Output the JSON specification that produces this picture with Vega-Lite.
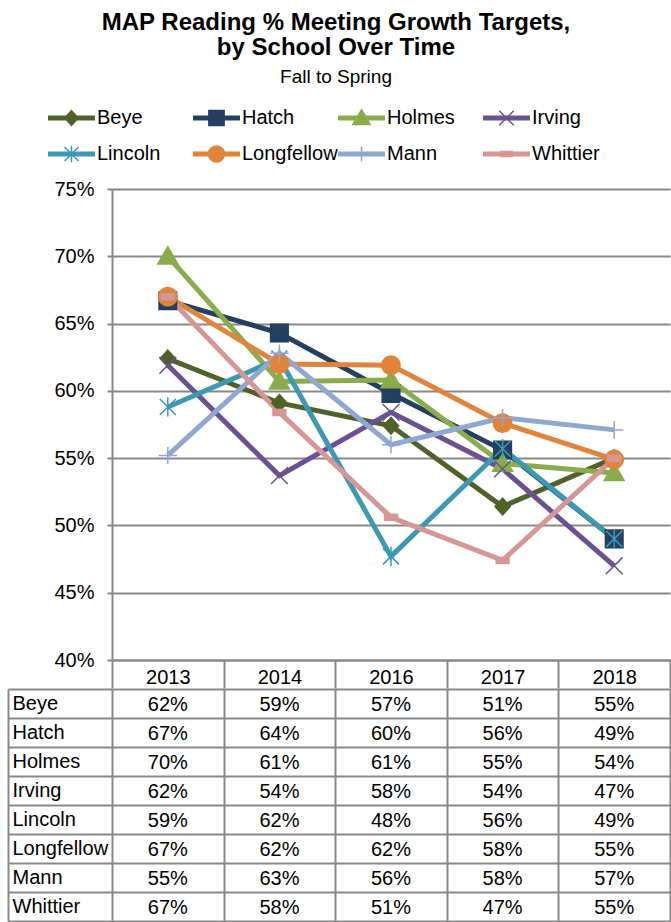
{
  "$schema": "https://vega.github.io/schema/vega-lite/v6.json",
  "padding": {"left": 7, "top": 10, "right": 0, "bottom": 0},
  "autosize": {"type": "pad"},
  "title": {
    "text": ["MAP Reading % Meeting Growth Targets,", "by School Over Time"],
    "subtitle": "Fall to Spring",
    "fontSize": 24,
    "fontWeight": "bold",
    "lineHeight": 25.5,
    "color": "#000000",
    "subtitleFontSize": 19,
    "subtitleColor": "#000000",
    "subtitlePadding": 7.5,
    "anchor": "middle",
    "dx": -3,
    "offset": 20
  },
  "spacing": -10,
  "config": {
    "font": "Liberation Sans",
    "view": {"stroke": null},
    "axis": {"labelFont": "Liberation Sans"}
  },
  "datasets": {
    "scores": [
      {"school": "Beye", "year": "2013", "value": 0.624},
      {"school": "Beye", "year": "2014", "value": 0.591},
      {"school": "Beye", "year": "2016", "value": 0.574},
      {"school": "Beye", "year": "2017", "value": 0.514},
      {"school": "Beye", "year": "2018", "value": 0.550},
      {"school": "Hatch", "year": "2013", "value": 0.667},
      {"school": "Hatch", "year": "2014", "value": 0.643},
      {"school": "Hatch", "year": "2016", "value": 0.598},
      {"school": "Hatch", "year": "2017", "value": 0.556},
      {"school": "Hatch", "year": "2018", "value": 0.490},
      {"school": "Holmes", "year": "2013", "value": 0.700},
      {"school": "Holmes", "year": "2014", "value": 0.607},
      {"school": "Holmes", "year": "2016", "value": 0.608},
      {"school": "Holmes", "year": "2017", "value": 0.546},
      {"school": "Holmes", "year": "2018", "value": 0.539},
      {"school": "Irving", "year": "2013", "value": 0.619},
      {"school": "Irving", "year": "2014", "value": 0.537},
      {"school": "Irving", "year": "2016", "value": 0.584},
      {"school": "Irving", "year": "2017", "value": 0.542},
      {"school": "Irving", "year": "2018", "value": 0.470},
      {"school": "Lincoln", "year": "2013", "value": 0.588},
      {"school": "Lincoln", "year": "2014", "value": 0.624},
      {"school": "Lincoln", "year": "2016", "value": 0.477},
      {"school": "Lincoln", "year": "2017", "value": 0.557},
      {"school": "Lincoln", "year": "2018", "value": 0.490},
      {"school": "Longfellow", "year": "2013", "value": 0.670},
      {"school": "Longfellow", "year": "2014", "value": 0.620},
      {"school": "Longfellow", "year": "2016", "value": 0.619},
      {"school": "Longfellow", "year": "2017", "value": 0.576},
      {"school": "Longfellow", "year": "2018", "value": 0.549},
      {"school": "Mann", "year": "2013", "value": 0.552},
      {"school": "Mann", "year": "2014", "value": 0.628},
      {"school": "Mann", "year": "2016", "value": 0.560},
      {"school": "Mann", "year": "2017", "value": 0.580},
      {"school": "Mann", "year": "2018", "value": 0.571},
      {"school": "Whittier", "year": "2013", "value": 0.670},
      {"school": "Whittier", "year": "2014", "value": 0.584},
      {"school": "Whittier", "year": "2016", "value": 0.506},
      {"school": "Whittier", "year": "2017", "value": 0.474},
      {"school": "Whittier", "year": "2018", "value": 0.550}
    ]
  },
  "vconcat": [
    {
      "width": 558,
      "height": 471,
      "data": {"name": "scores"},
      "resolve": {"scale": {"x": "independent", "y": "independent"}},
      "layer": [
        {
          "encoding": {
            "x": {
              "field": "year",
              "type": "ordinal",
              "bandPosition": 0.5,
              "scale": {"type": "band", "paddingInner": 0, "paddingOuter": 0},
              "axis": {
                "orient": "bottom",
                "title": null,
                "tickBand": "extent",
                "tickSize": 28,
                "tickWidth": 2,
                "tickColor": "#888888",
                "domainColor": "#888888",
                "domainWidth": 2,
                "labelFontSize": 20,
                "labelColor": "#000000",
                "labelPadding": -21,
                "labelAngle": 0,
                "grid": false
              }
            },
            "y": {
              "field": "value",
              "type": "quantitative",
              "scale": {"domain": [0.4, 0.75], "nice": false, "zero": false},
              "axis": {
                "title": null,
                "values": [0.4, 0.45, 0.5, 0.55, 0.6, 0.65, 0.7, 0.75],
                "format": ".0%",
                "labelFontSize": 20,
                "labelColor": "#000000",
                "labelPadding": 13,
                "labelFlush": false,
                "labelOverlap": false,
                "tickSize": 5,
                "tickWidth": 2,
                "tickColor": "#888888",
                "domainColor": "#888888",
                "domainWidth": 2,
                "grid": true,
                "gridColor": "#888888",
                "gridWidth": 2
              }
            }
          },
          "layer": [
            {
              "mark": {"type": "line", "strokeWidth": 5},
              "encoding": {
                "stroke": {
                  "field": "school",
                  "type": "nominal",
                  "scale": {
                    "domain": ["Beye", "Hatch", "Holmes", "Irving", "Lincoln", "Longfellow", "Mann", "Whittier"],
                    "range": ["#4F6228", "#243F60", "#8AAC4B", "#6A5191", "#3B99B1", "#E0843C", "#90A8D0", "#D69695"]
                  },
                  "legend": null
                }
              }
            },
            {
              "mark": {"type": "point", "filled": true, "size": 64, "strokeWidth": 1.5, "opacity": 1},
              "encoding": {
                "shape": {
                  "field": "school",
                  "type": "nominal",
                  "scale": {
                    "domain": ["Beye", "Hatch", "Holmes", "Irving", "Lincoln", "Longfellow", "Mann", "Whittier"],
                    "range": [
                      "M0,-2.1L1.9,0L0,2.1L-1.9,0Z",
                      "M-2.2,-2.2H2.2V2.2H-2.2Z",
                      "M0,-2.4L2.5,1.9H-2.5Z",
                      "M-2.1,-2.1L2.1,2.1M-2.1,2.1L2.1,-2.1",
                      "M-2,-2L2,2M-2,2L2,-2M0,-2.4V2.4",
                      "M-2.3,0A2.3,2.3 0 1,1 2.3,0A2.3,2.3 0 1,1 -2.3,0Z",
                      "M-2.3,0H2.3M0,-2.2V2.2",
                      "M-1.6,-0.75H1.6V0.75H-1.6Z"
                    ]
                  },
                  "legend": null
                },
                "fill": {
                  "field": "school",
                  "type": "nominal",
                  "scale": {
                    "domain": ["Beye", "Hatch", "Holmes", "Irving", "Lincoln", "Longfellow", "Mann", "Whittier"],
                    "range": ["#4F6228", "#243F60", "#8AAC4B", "#6A5191", "#3B99B1", "#E0843C", "#90A8D0", "#D69695"]
                  },
                  "legend": null
                },
                "stroke": {"field": "school", "type": "nominal", "legend": null}
              }
            }
          ]
        },
        {
          "transform": [
            {"filter": "datum.year === '2013'"},
            {"filter": {"field": "school", "oneOf": ["Beye", "Hatch", "Holmes", "Irving"]}}
          ],
          "encoding": {
            "x": {
              "field": "school",
              "type": "nominal",
              "scale": {"type": "point", "domain": ["Beye", "Hatch", "Holmes", "Irving"], "range": [-64, 371], "padding": 0},
              "axis": null
            },
            "y": {
              "datum": 0,
              "type": "quantitative",
              "scale": {"domain": [0, 1], "range": [-71, -35]},
              "axis": null
            }
          },
          "layer": [
            {
              "mark": {"type": "rule", "strokeWidth": 5, "x2Offset": 47},
              "encoding": {
                "x2": {"field": "school"},
                "stroke": {"field": "school", "type": "nominal", "legend": null}
              }
            },
            {
              "mark": {"type": "point", "filled": true, "size": 48, "strokeWidth": 1.5, "opacity": 1, "xOffset": 23.5},
              "encoding": {
                "shape": {"field": "school", "type": "nominal", "legend": null},
                "fill": {"field": "school", "type": "nominal", "legend": null},
                "stroke": {"field": "school", "type": "nominal", "legend": null}
              }
            },
            {
              "mark": {"type": "text", "align": "left", "baseline": "middle", "fontSize": 20, "color": "#000000", "xOffset": 49},
              "encoding": {"text": {"field": "school"}}
            }
          ]
        },
        {
          "transform": [
            {"filter": "datum.year === '2013'"},
            {"filter": {"field": "school", "oneOf": ["Lincoln", "Longfellow", "Mann", "Whittier"]}}
          ],
          "encoding": {
            "x": {
              "field": "school",
              "type": "nominal",
              "scale": {"type": "point", "domain": ["Lincoln", "Longfellow", "Mann", "Whittier"], "range": [-64, 371], "padding": 0},
              "axis": null
            },
            "y": {
              "datum": 1,
              "type": "quantitative",
              "scale": {"domain": [0, 1], "range": [-71, -35]},
              "axis": null
            }
          },
          "layer": [
            {
              "mark": {"type": "rule", "strokeWidth": 5, "x2Offset": 47},
              "encoding": {
                "x2": {"field": "school"},
                "stroke": {"field": "school", "type": "nominal", "legend": null}
              }
            },
            {
              "mark": {"type": "point", "filled": true, "size": 48, "strokeWidth": 1.5, "opacity": 1, "xOffset": 23.5},
              "encoding": {
                "shape": {"field": "school", "type": "nominal", "legend": null},
                "fill": {"field": "school", "type": "nominal", "legend": null},
                "stroke": {"field": "school", "type": "nominal", "legend": null}
              }
            },
            {
              "mark": {"type": "text", "align": "left", "baseline": "middle", "fontSize": 20, "color": "#000000", "xOffset": 49},
              "encoding": {"text": {"field": "school"}}
            }
          ]
        }
      ]
    },
    {
      "width": 558,
      "height": 232,
      "data": {"name": "scores"},
      "mark": {"type": "text", "fontSize": 20, "baseline": "middle", "dy": 1, "color": "#000000"},
      "encoding": {
        "x": {
          "field": "year",
          "type": "ordinal",
          "scale": {"type": "band", "paddingInner": 0, "paddingOuter": 0},
          "axis": {
            "orient": "bottom",
            "title": null,
            "labels": false,
            "ticks": false,
            "domain": false,
            "grid": true,
            "tickBand": "extent",
            "gridColor": "#888888",
            "gridWidth": 2
          }
        },
        "y": {
          "field": "school",
          "type": "nominal",
          "sort": ["Beye", "Hatch", "Holmes", "Irving", "Lincoln", "Longfellow", "Mann", "Whittier"],
          "scale": {"type": "band", "paddingInner": 0, "paddingOuter": 0},
          "axis": {
            "orient": "left",
            "title": null,
            "offset": 104,
            "domainColor": "#888888",
            "domainWidth": 2,
            "tickBand": "extent",
            "tickSize": -104,
            "tickColor": "#888888",
            "tickWidth": 2,
            "grid": true,
            "gridColor": "#888888",
            "gridWidth": 2,
            "labelAlign": "left",
            "labelBaseline": "middle",
            "labelPadding": 100,
            "labelFontSize": 20,
            "labelColor": "#000000",
            "labelBound": false,
            "labelLimit": 0
          }
        },
        "text": {"field": "value", "type": "quantitative", "format": ".0%"}
      }
    }
  ]
}
